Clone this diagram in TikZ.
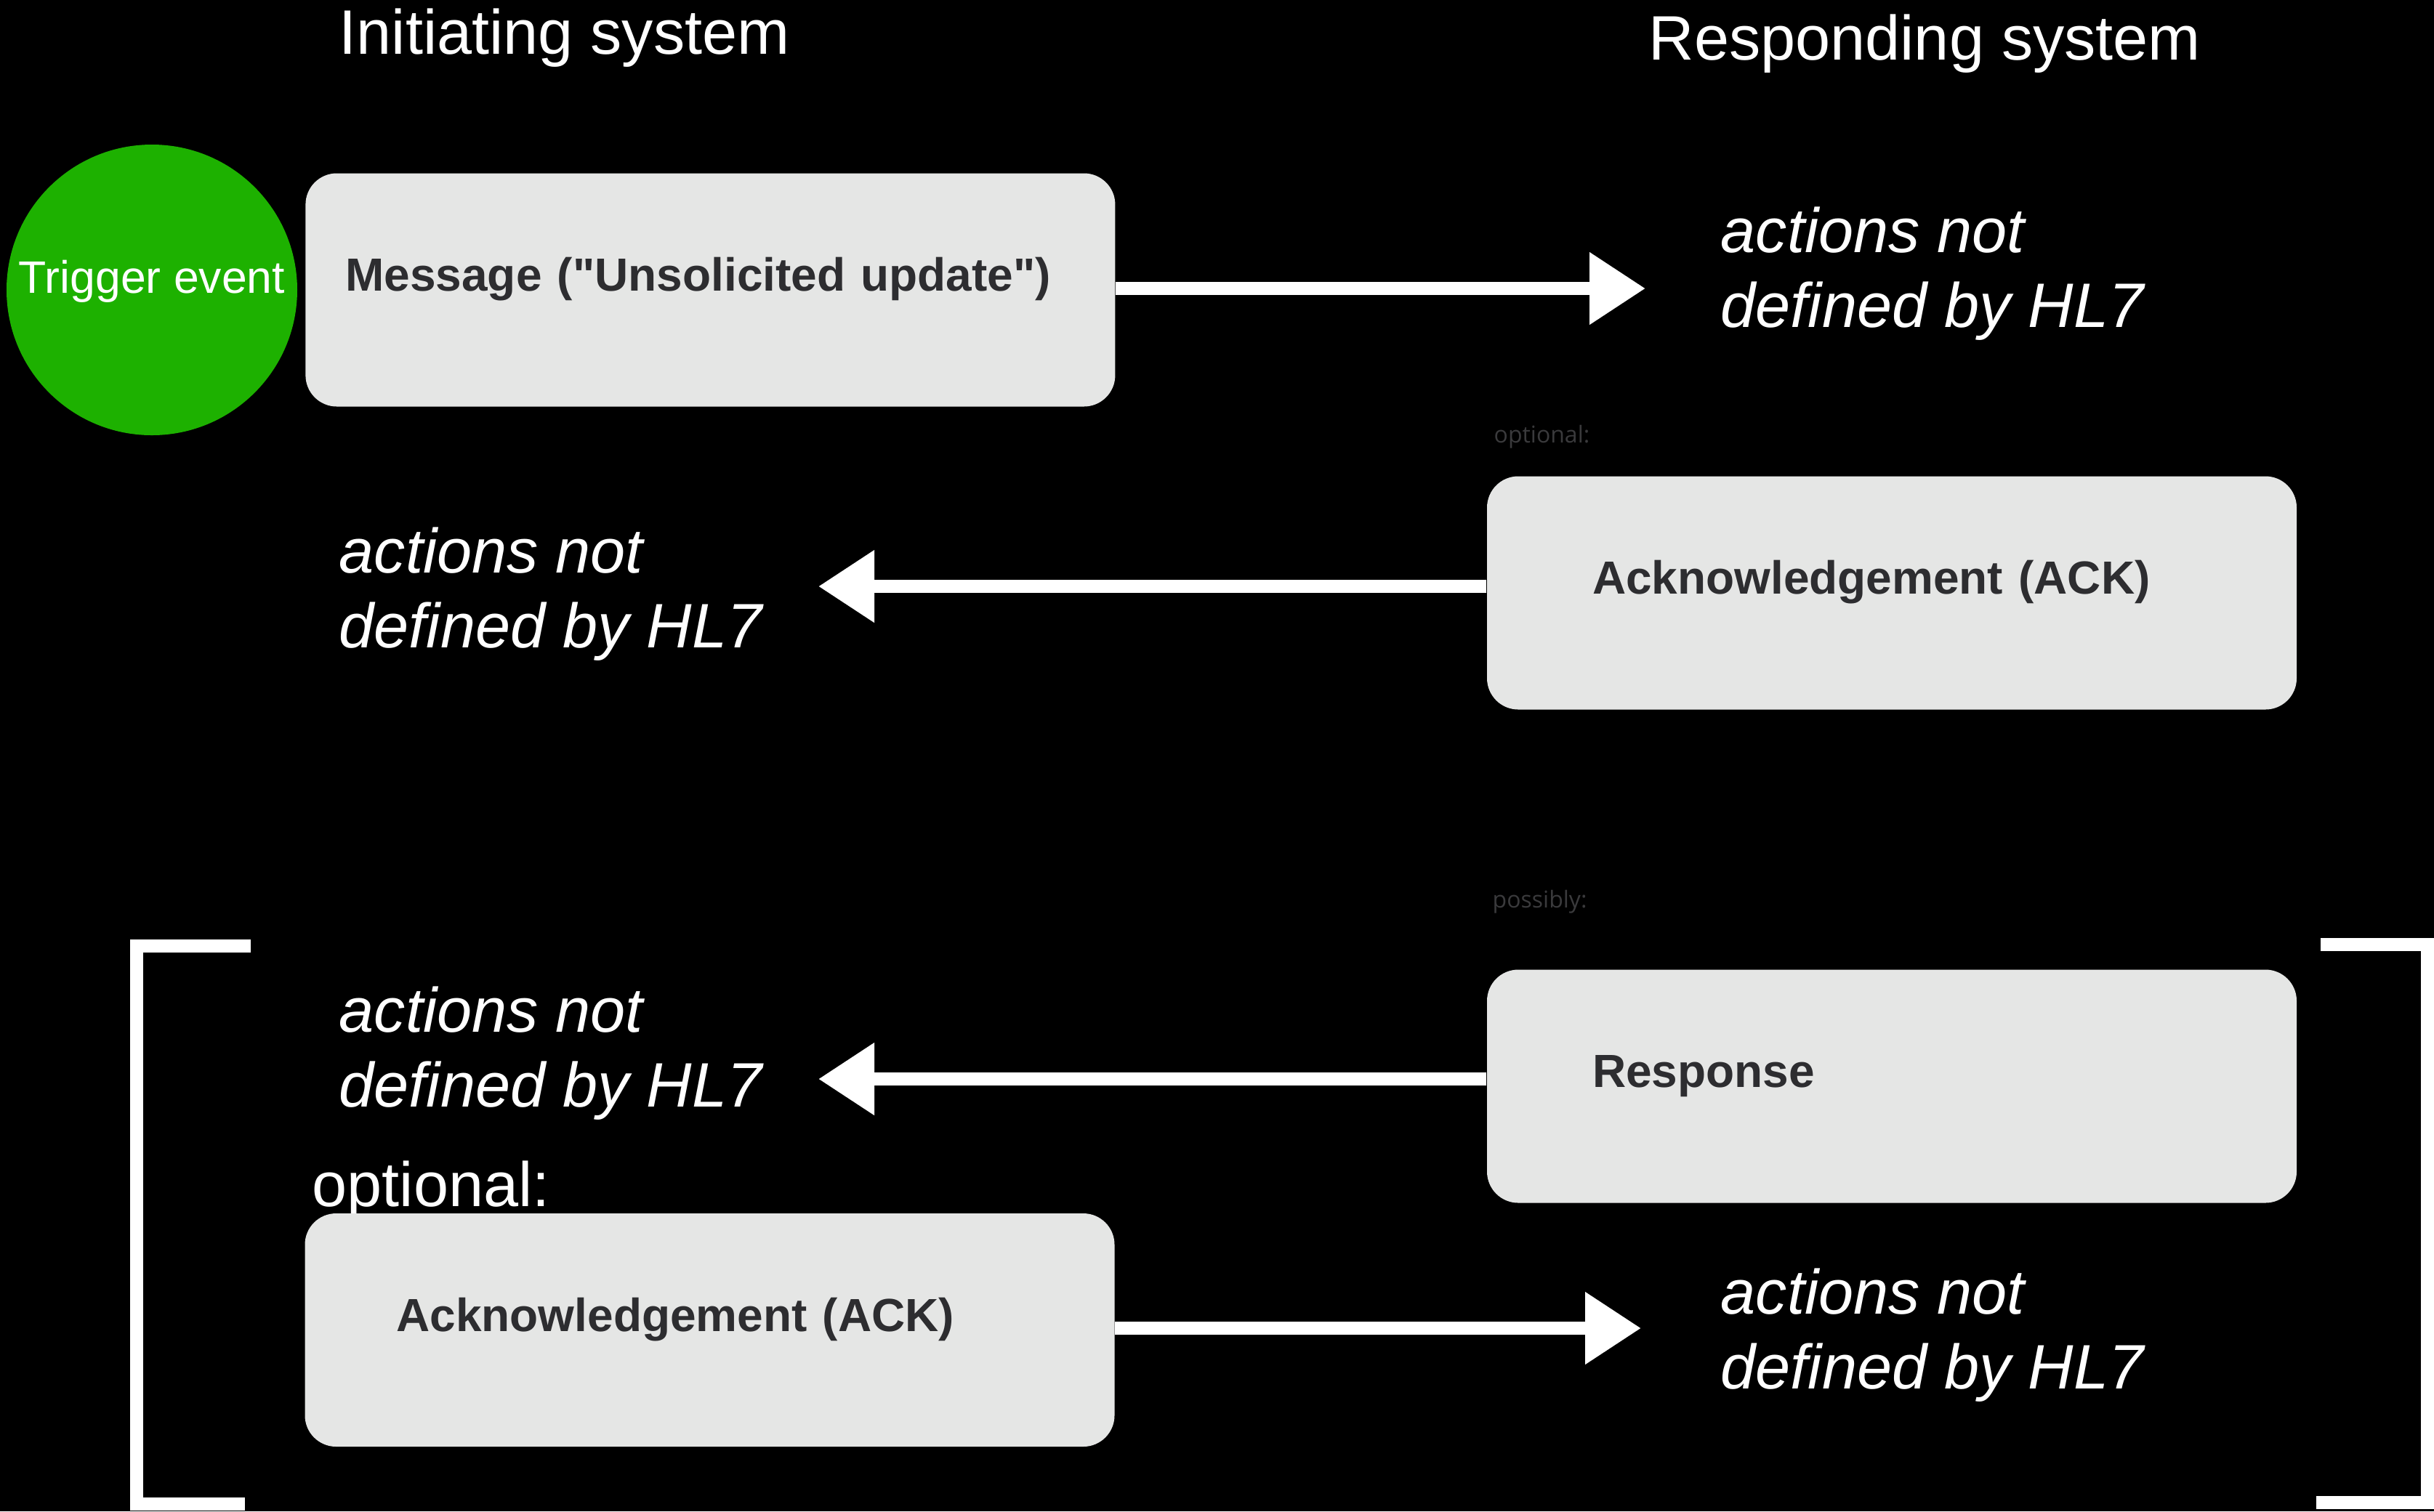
\documentclass[tikz,border=0pt]{standalone}
\usepackage{fontspec}
\setmainfont{Liberation Sans}
\newfontfamily\notefont{Open Sans}
\usetikzlibrary{arrows.meta}
\usetikzlibrary{positioning}
\definecolor{triggreen}{RGB}{29,177,0}
\definecolor{boxgray}{RGB}{229,230,229}
\definecolor{boxtext}{RGB}{45,45,48}
\definecolor{notegray}{RGB}{58,58,60}

\begin{document}
\begin{tikzpicture} [heading/.style={text=white,inner sep=0,anchor=west,font=\fontsize{24.6pt}{29.3pt}\selectfont},
  act/.style={heading,align=left,font=\fontsize{24.6pt}{29.3pt}\selectfont\itshape},
  note/.style={text=notegray,inner sep=0,anchor=west,font=\notefont\fontsize{9.1pt}{11pt}\selectfont},
  box/.style={fill=boxgray,rounded corners=0.43cm,minimum height=3.21cm,text=boxtext,align=left,text height=13pt,text depth=12pt,font=\fontsize{18.2pt}{22pt}\selectfont\bfseries},
  chalk/.style={draw=white,line width=0.18cm},
  msgarrow/.style={chalk,-{Triangle[length=0.77cm,width=0.95cm]}}]
\fill[black] (0,0) rectangle (33.49,-20.80);
\useasboundingbox (0,0) rectangle (33.49,-20.80);

\node[heading] (init) at (4.66,-0.52) {Initiating system};
\node[heading] (respsys) at (22.68,-0.60) {Responding system};

\node[circle,fill=triggreen,text=white,minimum size=4.0cm,inner sep=0,text height=12.8pt,text depth=10pt,font=\fontsize{17.8pt}{20pt}\selectfont] (trig) at (2.09,-3.99) {Trigger event};
\node[box,inner xsep=0.55cm,text width=10.04cm] (msg) [right=0.1cm of trig] {Message (\textquotedbl Unsolicited update\textquotedbl)};
\node[act] (act1) at (23.67,-3.77) {actions not\\defined by HL7};
\coordinate (t1) at (22.64,-3.97);
\draw[msgarrow] (msg.east |- t1) -- (t1);

\node[note] (opt1) at (20.55,-6.01) {optional:};
\node[box,inner xsep=1.45cm,text width=8.24cm] (ack1) at (26.03,-8.16) {Acknowledgement (ACK)};
\node[act] (act2) at (4.66,-8.18) {actions not\\defined by HL7};
\coordinate (t2) at (11.26,-8.07);
\draw[msgarrow] (ack1.west |- t2) -- (t2);

\node[note] (poss) at (20.53,-12.41) {possibly:};
\node[box,inner xsep=1.45cm,text width=8.24cm] (resp) at (26.03,-14.95) {Response};
\node[act] (act3) at (4.66,-14.50) {actions not\\defined by HL7};
\coordinate (t3) at (11.26,-14.85);
\draw[msgarrow] (resp.west |- t3) -- (t3);

\node[heading] (opt2) at (4.29,-16.38) {optional:};
\node[box,inner xsep=1.26cm,text width=8.62cm] (ack2) at (9.765,-18.305) {Acknowledgement (ACK)};
\node[act] (act4) at (23.67,-18.38) {actions not\\defined by HL7};
\coordinate (t4) at (22.58,-18.28);
\draw[msgarrow] (ack2.east |- t4) -- (t4);

% brackets round the possible exchange
\draw[chalk] (3.45,-13.02) -- (1.88,-13.02) -- (1.88,-20.70) -- (3.37,-20.70);
\draw[chalk] (31.93,-13.00) -- (33.40,-13.00) -- (33.40,-20.68) -- (31.87,-20.68);
\end{tikzpicture}
\end{document}
